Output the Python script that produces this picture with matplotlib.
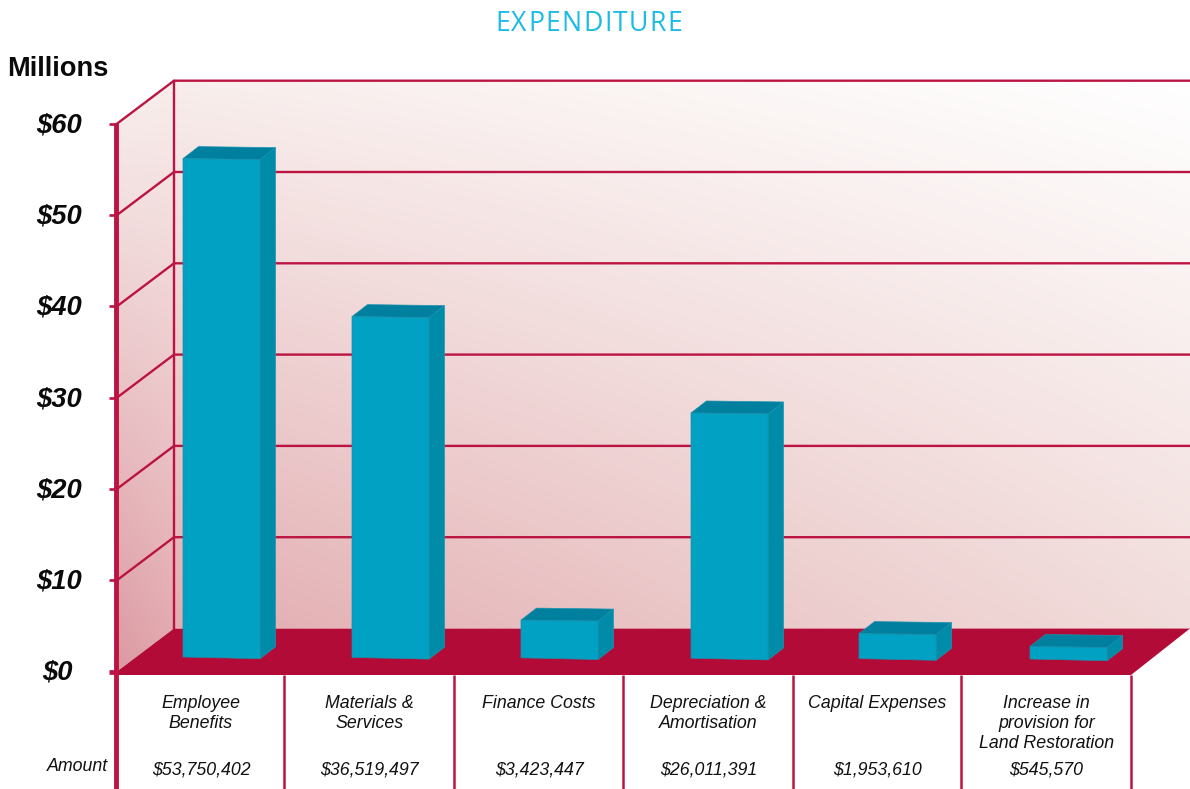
import matplotlib
matplotlib.use("Agg")
import matplotlib.pyplot as plt
from matplotlib.patches import Polygon
from matplotlib.textpath import TextPath
from matplotlib.font_manager import FontProperties
import numpy as np

categories = ["Employee\nBenefits", "Materials &\nServices", "Finance Costs",
              "Depreciation &\nAmortisation", "Capital Expenses",
              "Increase in\nprovision for\nLand Restoration"]
amounts = [53750402, 36519497, 3423447, 26011391, 1953610, 545570]
y_ticks = [0, 10, 20, 30, 40, 50, 60]

# picture geometry, in pixels
front_x, floor_right = 117, 1131
y0, per_unit = 671.5, 9.13
dx, dy = 57, -43
wall_right = 1190
dividers = [117, 284, 454, 623, 793, 961, 1131]
bar_left = [183, 352, 521, 691, 859, 1030]
bar_w = 77
bar_dx, bar_dy = 15.5, -12
bar_zero = 651.5
bar_unit = 9.17
crimson = "#B30B38"
line_col = "#BC1442"
text_col = "#111111"
font = "Liberation Sans"

fig = plt.figure(figsize=(11.9, 7.89), dpi=100)
ax = fig.add_axes([0, 0, 1, 1])
ax.set_xlim(0, 1190)
ax.set_ylim(789, 0)
ax.axis("off")


def to_y(v):
    return y0 - v * per_unit


def gradient(corners, extent, poly):
    # corners: top-left, top-right, bottom-left, bottom-right
    tl, tr, bl, br = [np.array(matplotlib.colors.to_rgb(c)) for c in corners]
    u, v = np.meshgrid(np.linspace(0, 1, 256), np.linspace(0, 1, 256))
    u, v = u[..., None], v[..., None]
    img = (tl * (1 - u) + tr * u) * (1 - v) + (bl * (1 - u) + br * u) * v
    im = ax.imshow(img, extent=extent, aspect="auto", interpolation="bilinear", zorder=1)
    patch = Polygon(poly, closed=True, transform=ax.transData, fc="none", ec="none")
    ax.add_patch(patch)
    im.set_clip_path(patch)


top_front, top_back = to_y(y_ticks[-1]), to_y(y_ticks[-1]) + dy
back_x = front_x + dx
floor_back = y0 + dy

# back wall and left wall
gradient(["#F8EEEC", "#FFFFFF", "#E3ADB1", "#F1DDDB"],
         (back_x, wall_right, floor_back, top_back),
         [(back_x, top_back), (wall_right, top_back), (wall_right, floor_back), (back_x, floor_back)])
gradient(["#F8F0EE", "#F8EEEC", "#DC99A2", "#E2A7AD"],
         (front_x, back_x, y0, top_back),
         [(front_x, top_front), (back_x, top_back), (back_x, floor_back), (front_x, y0)])

# grid lines on the walls
for t in y_ticks[1:]:
    ax.plot([front_x, back_x, wall_right], [to_y(t), to_y(t) + dy, to_y(t) + dy],
            color=line_col, lw=1.7, zorder=2, solid_joinstyle="miter")
ax.plot([back_x, back_x], [top_back, floor_back], color=line_col, lw=1.7, zorder=2)

# floor
ax.add_patch(Polygon([(front_x, y0), (back_x, floor_back), (wall_right, floor_back),
                      (floor_right, y0 + 3.5), (front_x, y0 + 3.5)],
                     closed=True, fc=crimson, ec="none", zorder=3))

# bars
for i, (left, amt) in enumerate(zip(bar_left, amounts)):
    val = amt / 1e6
    r = left + bar_w
    fl_b = 657 + 2 * i / (len(amounts) - 1)
    fr_b = fl_b + 1.7
    fl_t = bar_zero - val * bar_unit
    fr_t = fl_t + 1
    ax.add_patch(Polygon([(r, fr_t), (r + bar_dx, fr_t + bar_dy), (r + bar_dx, fr_b + bar_dy), (r, fr_b)],
                         closed=True, fc="#008BA9", ec="#1A97B2", lw=0.5, zorder=4))
    ax.add_patch(Polygon([(left, fl_t), (left + bar_dx, fl_t + bar_dy), (r + bar_dx, fr_t + bar_dy), (r, fr_t)],
                         closed=True, fc="#007F9E", ec="#1A92AE", lw=0.5, zorder=4))
    ax.add_patch(Polygon([(left, fl_t), (r, fr_t), (r, fr_b), (left, fl_b)],
                         closed=True, fc="#00A1C3", ec="#1A8FAA", lw=0.5, zorder=5))

# left axis and ticks
ax.plot([116, 116], [top_front - 1, 789], color=line_col, lw=3.5, zorder=6,
        solid_capstyle="butt")
for t in y_ticks:
    ax.plot([108.5, 117], [to_y(t), to_y(t)], color=line_col,
            lw=3.4 if t == 0 else 1.9, zorder=6, solid_capstyle="butt")
    ax.text(59 if t > 0 else 57.5, to_y(t) + 1.5, f"${t}", ha="center", va="center",
            family=font, weight="bold", style="italic", fontsize=19.7, color="#0A0A0A", zorder=7)

# table dividers
for x in dividers[1:]:
    ax.plot([x, x], [y0 + 3, 789], color=line_col, lw=1.8, zorder=6, solid_capstyle="butt")

# category labels and amounts
for i, (cat, amt) in enumerate(zip(categories, amounts)):
    cx = (dividers[i] + dividers[i + 1]) / 2 + 0.5
    for j, line in enumerate(cat.split("\n")):
        ax.text(cx, 704 + j * 19.7, line, ha="center", va="center", family=font,
                style="italic", fontsize=12.8, color=text_col, zorder=7)
    ax.text(cx, 770, f"${amt:,}", ha="center", va="center", family=font,
            style="italic", fontsize=12.8, color=text_col, zorder=7)

ax.text(107.5, 766.5, "Amount", ha="right", va="center", family=font, style="italic",
        fontsize=12.8, color=text_col)
ax.text(7.5, 69, "Millions", ha="left", va="center", family=font, weight="bold",
        fontsize=19.6, color="#0A0A0A")

# title is letter spaced, so place it one letter at a time
title = "EXPENDITURE"
title_fp = FontProperties(family="Open Sans", size=19.2, weight="normal")
px_per_pt = 100 / 72
spacing = 1.4
x = 495.0
for ch in title:
    ax.text(x, 30.7, ch, ha="left", va="baseline", fontproperties=title_fp, color="#1BBBE6")
    adv = TextPath((0, 0), ch + "|", prop=title_fp).get_extents().x1 - TextPath((0, 0), "|", prop=title_fp).get_extents().x1
    x += adv * px_per_pt + spacing

fig.savefig("out.png", dpi=100)
